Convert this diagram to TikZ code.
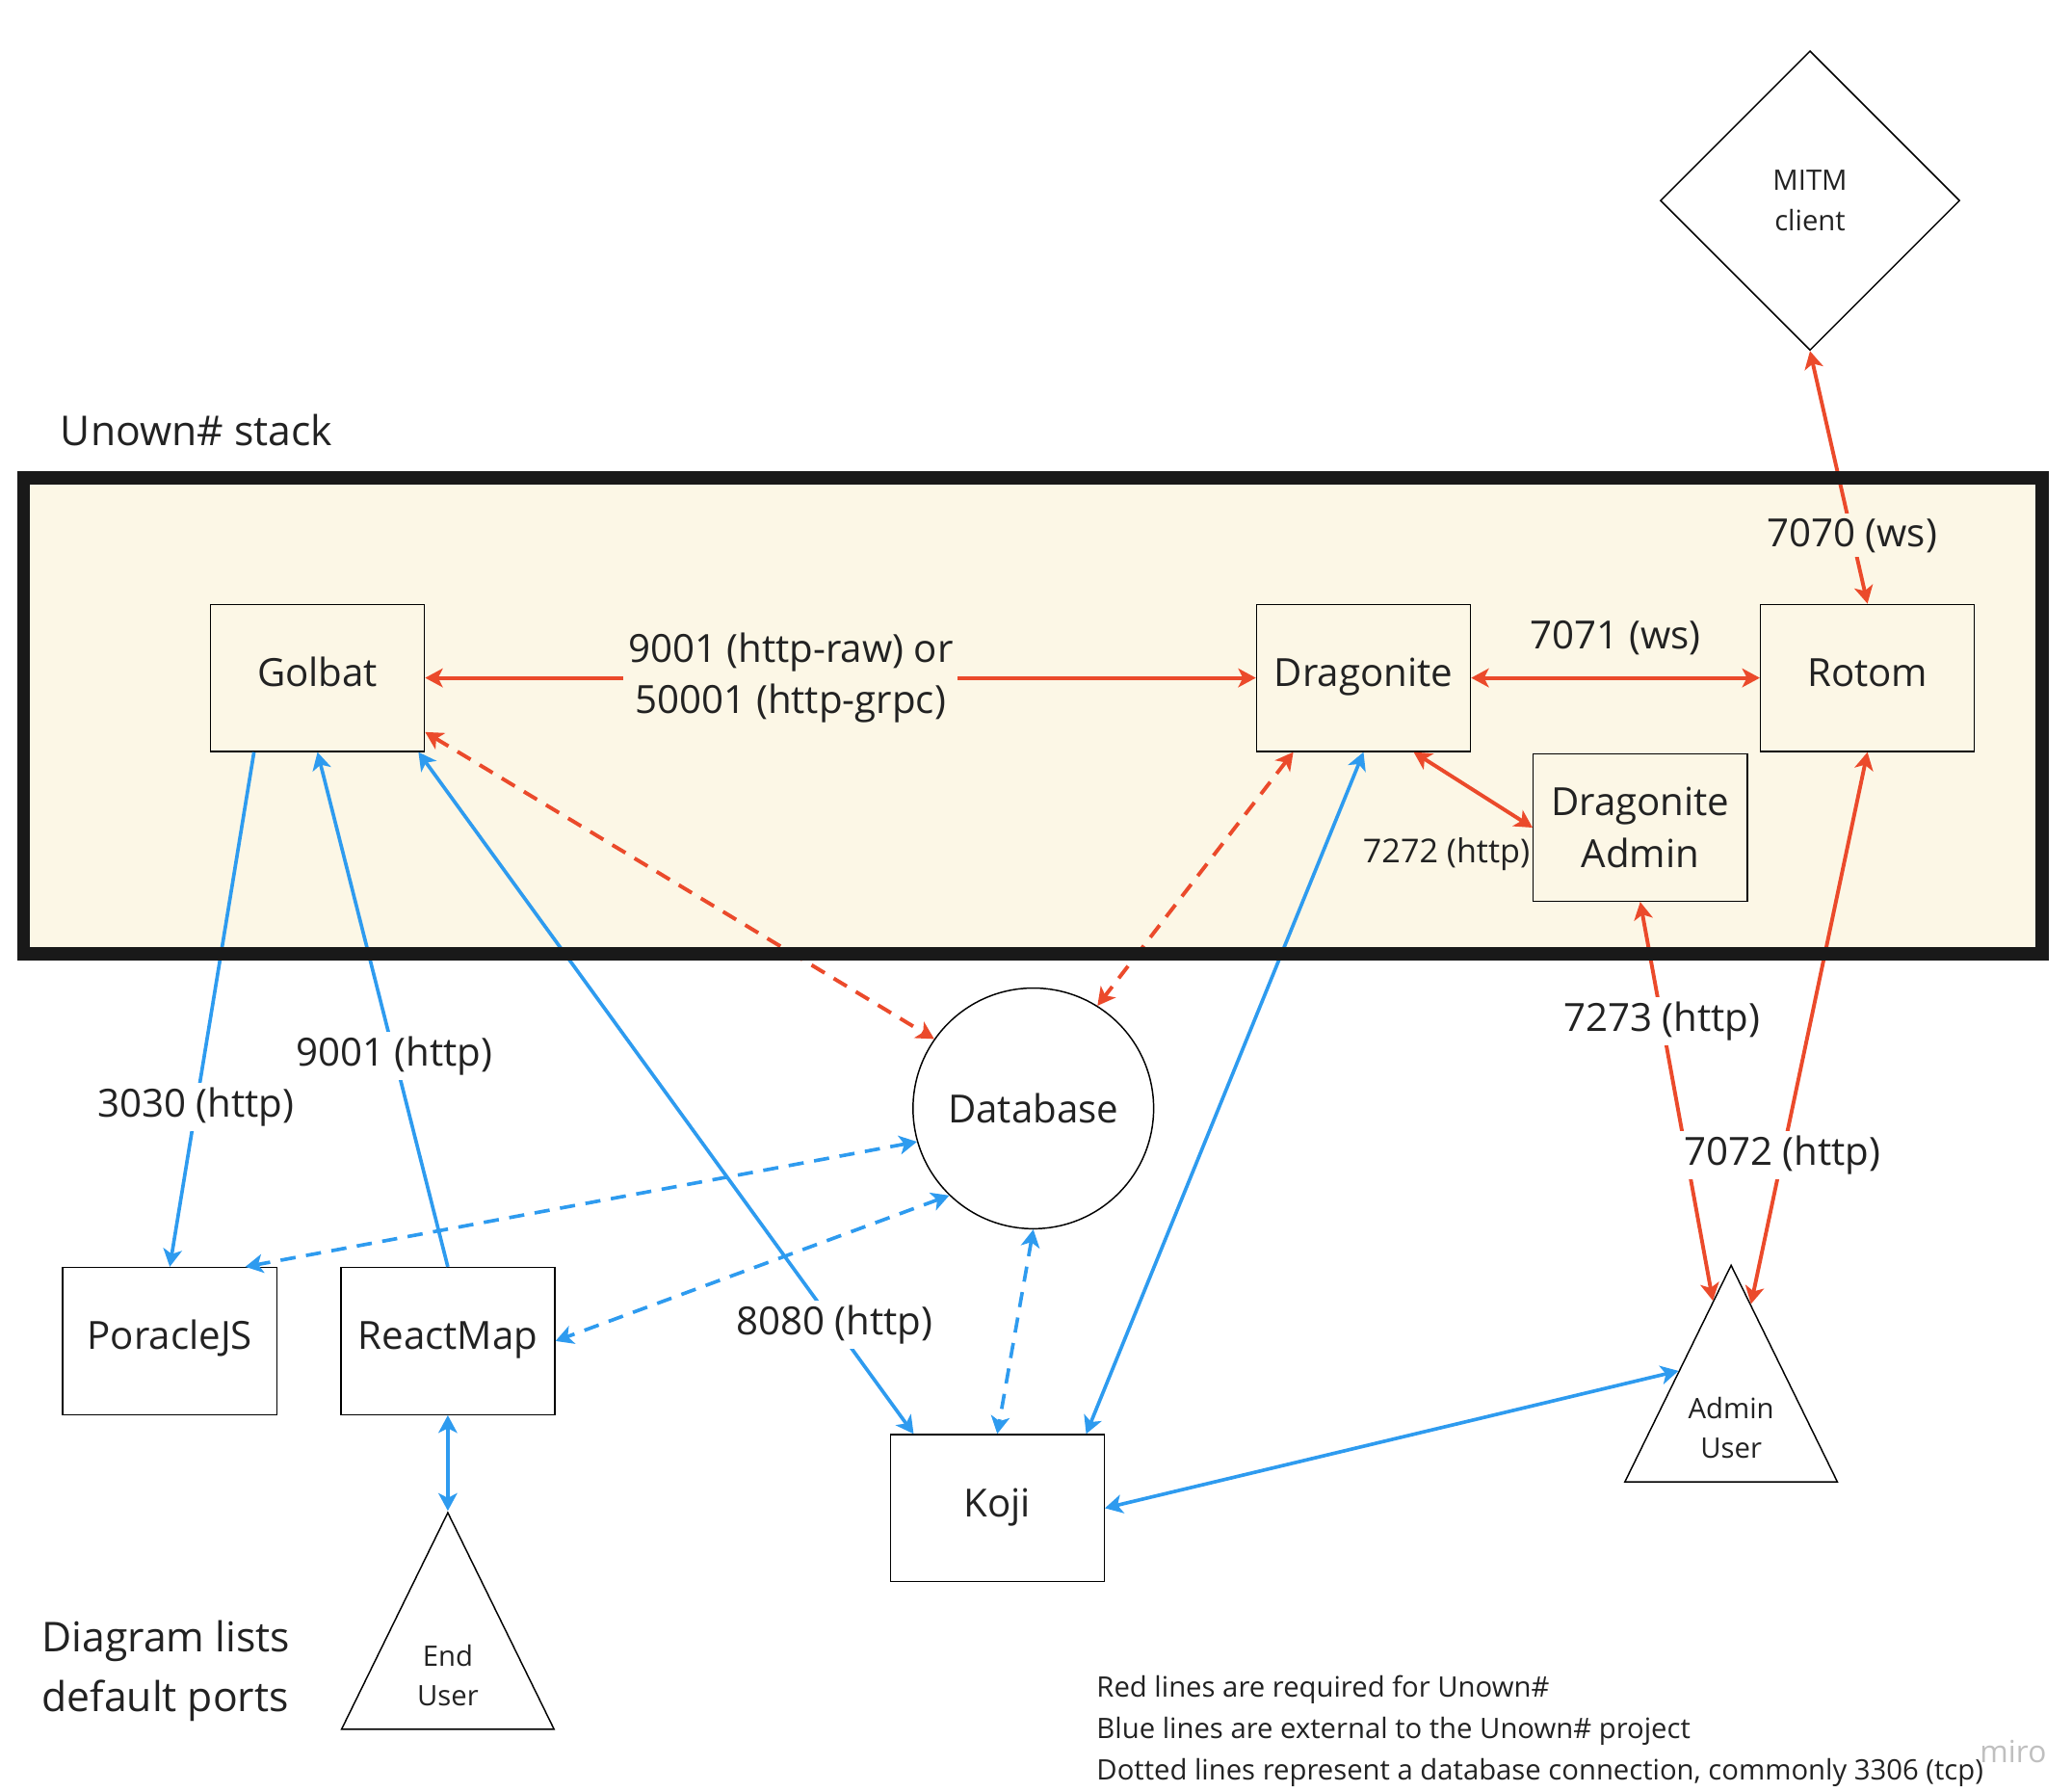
\documentclass[tikz,border=0pt]{standalone}
\usepackage{fontspec}
\setmainfont{Open Sans}
\usetikzlibrary{shapes.geometric,arrows.meta,positioning,calc}

\definecolor{reqred}{HTML}{EB4A2B}
\definecolor{extblue}{HTML}{2E9BEF}
\definecolor{cream}{HTML}{FCF7E6}
\definecolor{ink}{HTML}{222222}

\begin{document}
\begin{tikzpicture}[
    x=0.2mm, y=-0.2mm,
    font=\fontsize{16.5}{22}\selectfont,
    text=ink,
    service/.style={rectangle, draw=black, line width=0.6pt, fill=white, minimum width=3.2cm, minimum height=2.2cm, align=center},
    oneline/.style={text height=0.72em, text depth=0pt},
    stackservice/.style={service, fill=cream},
    person/.style={isosceles triangle, isosceles triangle stretches, shape border rotate=90, draw=black, line width=0.6pt, fill=white, minimum width=3.18cm, minimum height=3.24cm, inner sep=0pt, anchor=apex},
    smalltext/.style={font=\fontsize{12}{17}\selectfont, align=center},
    portlabel/.style={fill=white, inner sep=2pt, align=center},
    required/.style={draw=reqred, line width=1.6pt, >={Stealth[length=7.5pt,width=8pt,inset=2pt]}},
    external/.style={draw=extblue, line width=1.5pt, >={Stealth[length=7.5pt,width=8pt,inset=2pt]}},
    dbline/.style={dash pattern=on 6.5pt off 4.5pt}
]
\useasboundingbox (0,0) rectangle (1550,1339.6);
% Stack
\node[rectangle, fill=cream, minimum width=30.18cm, minimum height=7.1cm] (stack) at (772.5,535.5) {};
\node[anchor=west, inner sep=0pt, font=\fontsize{17.5}{22}\selectfont] (stacktitle) at (45,322) {Unown\# stack};
\node[stackservice, oneline] (golbat) at (237.5,507) {Golbat};
\node[stackservice, oneline] (dragonite) at (1020,507) {Dragonite};
\node[stackservice, oneline] (rotom) at (1397,507) {Rotom};
\node[stackservice] (dragoniteadmin) at (1227,619) {Dragonite\\Admin};
% Outside the stack
\node[diamond, draw=black, line width=0.6pt, fill=white, minimum width=4.48cm, minimum height=4.48cm, inner sep=0pt, smalltext] (mitm) at (1354,150) {MITM\\client};
\node[circle, draw=black, line width=0.6pt, fill=white, minimum size=3.6cm, inner sep=0pt] (database) at (773,829) {Database};
\node[service, oneline] (poracle) at (127,1003) {PoracleJS};
\node[service, oneline] (reactmap) at (335,1003) {ReactMap};
\node[service, oneline] (koji) at (746,1128) {Koji};
\node[person] (enduser) at (335,1130) {};
\node[smalltext] (endusertext) at (335,1253) {End\\User};
\node[person] (adminuser) at (1295,945) {};
\node[smalltext] (adminusertext) at (1295,1068) {Admin\\User};
% Red lines
\draw[required, <->] (golbat.east) -- node[portlabel, pos=0.44, fill=cream] {9001 (http-raw) or\\50001 (http-grpc)} (dragonite.west);
\draw[required, <->] (dragonite.east) -- node[above=0.2cm] {7071 (ws)} (rotom.west);
\draw[required, <->] (mitm.south) -- node[portlabel, pos=0.73, fill=cream] {7070 (ws)} (rotom.north);
\draw[required, <->] ([xshift=-0.86cm]dragonite.south east) -- (dragoniteadmin.west);
\draw[required, <->] (dragoniteadmin.south) -- node[portlabel, pos=0.3] {7273 (http)} ($(adminuser.apex)!0.17!(adminuser.left corner)$);
\draw[required, <->] (rotom.south) -- node[portlabel, pos=0.73] {7072 (http)} ($(adminuser.apex)!0.185!(adminuser.right corner)$);
\draw[required, dbline, <->] ([yshift=0.3cm]golbat.south east) -- (database.145);
\draw[required, dbline, <->] ([xshift=0.56cm]dragonite.south west) -- (database.58);
% Blue lines
\draw[external, ->] ([xshift=-0.95cm]golbat.south) -- node[portlabel, pos=0.69] {3030 (http)} (poracle.north);
\draw[external, ->] (reactmap.north) -- node[portlabel, pos=0.41] {9001 (http)} (golbat.south);
\draw[external, <->] ([xshift=-0.1cm]golbat.south east) -- node[portlabel, pos=0.84] {8080 (http)} ([xshift=0.36cm]koji.north west);
\draw[external, <->] (dragonite.south) -- ([xshift=-0.28cm]koji.north east);
\draw[external, dbline, <->] (database.196) -- ([xshift=-0.48cm]poracle.north east);
\draw[external, dbline, <->] (database.226) -- (reactmap.east);
\draw[external, dbline, <->] (database.south) -- (koji.north);
\draw[external, <->] (koji.east) -- ($(adminuser.apex)!0.49!(adminuser.left corner)$);
\draw[external, <->] (reactmap.south) -- (enduser.apex);
% Frame on top
\draw[line width=5.7pt, draw=black!90] (stack.north west) rectangle (stack.south east);
% Labels
\node[smalltext, font=\fontsize{14}{17}\selectfont, anchor=east, inner sep=1pt] (port7272) at ([yshift=-0.4cm]dragoniteadmin.west) {7272 (http)};
\node[anchor=west, align=left, inner sep=0pt, font=\fontsize{17.5}{25.5}\selectfont] (note) at (31,1250) {Diagram lists\\default ports};
\node[anchor=west, align=left, inner sep=0pt, font=\fontsize{12}{17.6}\selectfont] (legend) at (820,1295) {Red lines are required for Unown\#\\Blue lines are external to the Unown\# project\\Dotted lines represent a database connection, commonly 3306 (tcp)};
\node[text=black!25, font=\fontsize{13}{13}\selectfont] (miro) at (1506,1310) {miro};
\end{tikzpicture}
\end{document}
